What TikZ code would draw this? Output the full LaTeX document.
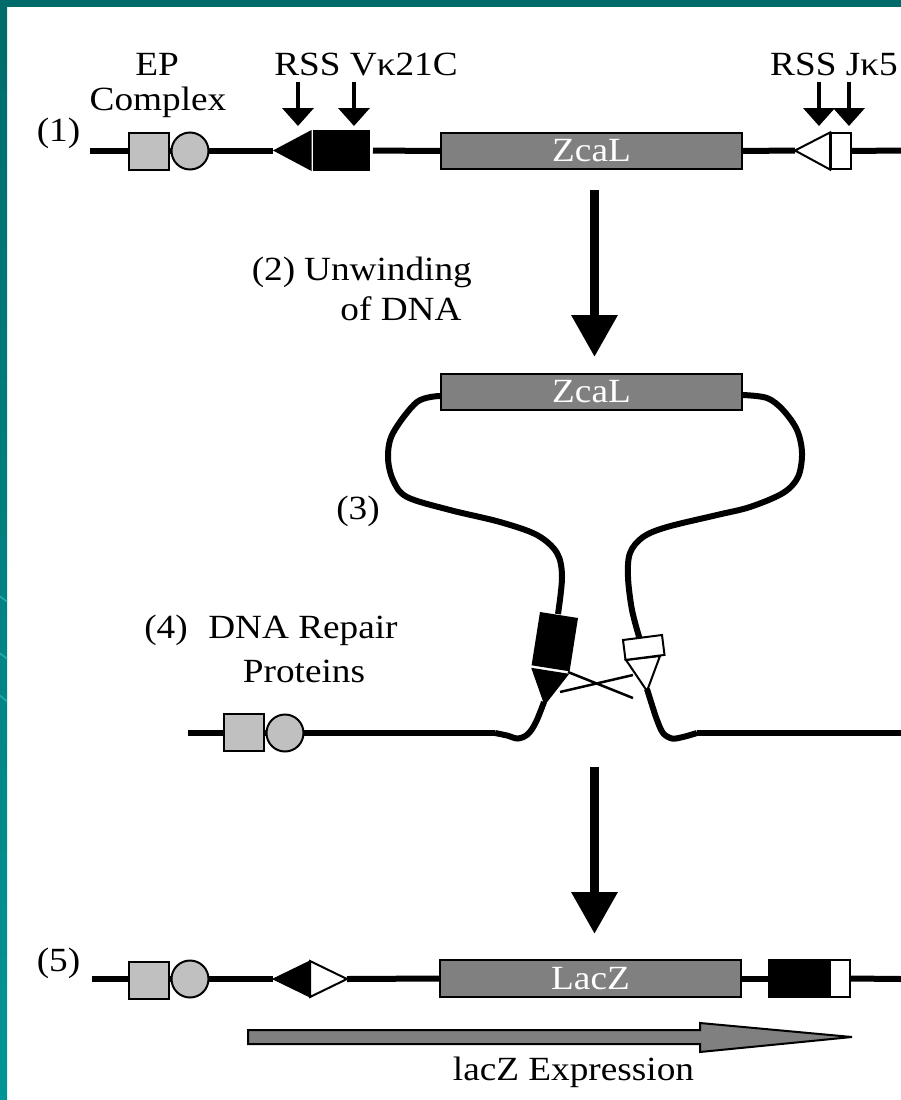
\documentclass[tikz,border=0pt]{standalone}
\usepackage{fontspec}
\setmainfont{Liberation Serif}[FakeStretch=1.1]
\usetikzlibrary{arrows.meta}
\definecolor{tealdark}{HTML}{006B6B}
\definecolor{teallight}{HTML}{009595}
\definecolor{swooshcol}{HTML}{2AA8A8}
\definecolor{genegray}{HTML}{808080}
\definecolor{promgray}{HTML}{C0C0C0}
\newcommand\lblfont{\fontsize{34}{36}\selectfont}

\begin{document}
\begin{tikzpicture}[x=1bp,y=-1bp,
  dna/.style={line width=6bp},
  thinline/.style={line width=2.5bp},
  promsq/.style={draw, line width=2bp, fill=promgray, minimum width=40bp,
    minimum height=37bp, inner sep=0pt, outer sep=0pt},
  promcirc/.style={circle, draw, line width=2bp, fill=promgray,
    minimum size=37bp, inner sep=0pt, outer sep=0pt},
  gene/.style={draw, line width=2bp, fill=genegray, minimum width=301bp,
    minimum height=36bp, inner sep=0pt, outer sep=0pt, text=white, font=\lblfont},
  vseg/.style={fill=black, inner sep=0pt, outer sep=0pt},
  jseg/.style={draw, line width=2bp, fill=white, inner sep=0pt, outer sep=0pt},
  pointer/.style={line width=4bp, -{Triangle[length=18bp,width=31bp]}},
  bigarrow/.style={line width=9.5bp, -{Triangle[length=42bp,width=44bp]}},
  lbl/.style={inner sep=0pt, anchor=base, font=\lblfont},
  swooshline/.style={swooshcol, line width=1.6bp}
]
\useasboundingbox (0,0) rectangle (901,1100);
\fill[white] (0,0) rectangle (901,1100);

% frame strips
\fill[tealdark] (0,0) rectangle (901,7);
\shade[top color=tealdark, bottom color=teallight] (0,0) rectangle (7,1100);
\begin{scope}
  \clip (0,0) rectangle (7,1100);
  \draw[swooshline] (-2,595) -- (9,603);
  \draw[swooshline] (-2,652) -- (9,660);
  \draw[swooshline] (-2,694) -- (9,703);
\end{scope}

% ---------- row (1): initial construct ----------
\coordinate (r1a) at (90,150.5);
\coordinate (rssv1) at (273,150.5);
\coordinate (rssj1) at (795,150.5);
\coordinate (r1b) at (901,150.5);
\draw[dna] (r1a) -- (rssv1);
\node[promsq] (p1) at (149,151) {};
\node[promcirc] (c1) at (190,151) {};
\fill (rssv1) -- (311.5,130) -- (311.5,171) -- cycle;
\node[vseg, minimum width=57bp, minimum height=41bp] (v1) at (341.5,150.5) {};
\node[gene] (z1) at (591.5,151) {ZcaL};
\draw[dna, shorten <=3bp] (v1.east) -- (z1.west);
\draw[dna] (z1.east) -- (rssj1);
\draw[line width=2bp, fill=white] (rssj1) -- (830,132.5) -- (830,169.5) -- cycle;
\node[jseg, minimum width=20bp, minimum height=36bp] (j1) at (841,151) {};
\draw[dna] (j1.east) -- (r1b);

% labels and pointers of row (1)
\node[lbl] (t1) at (58.5,141) {(1)};
\node[lbl] (tep) at (157,75) {EP};
\node[lbl] (tcx) at (158,110) {Complex};
\node[lbl] (tv) at (366,75) {RSS Vκ21C};
\node[lbl] (tj) at (834,75) {RSS Jκ5};
\coordinate (pa1) at (298,82);  \coordinate (pb1) at (298,126);
\coordinate (pa2) at (354,82);  \coordinate (pb2) at (354,126);
\coordinate (pa3) at (819,82);  \coordinate (pb3) at (819,126);
\coordinate (pa4) at (849,82);  \coordinate (pb4) at (849,126);
\draw[pointer] (pa1) -- (pb1);
\draw[pointer] (pa2) -- (pb2);
\draw[pointer] (pa3) -- (pb3);
\draw[pointer] (pa4) -- (pb4);

% ---------- step (2) ----------
\coordinate (ba1) at (594.5,190);
\coordinate (bb1) at (594.5,357);
\draw[bigarrow] (ba1) -- (bb1);
\node[lbl] (t2) at (273.5,280) {(2)};
\node[lbl] (tun) at (388,280) {Unwinding};
\node[lbl] (tof) at (401,320) {of DNA};

% ---------- step (3)/(4): looped intermediate ----------
\node[gene] (z2) at (591.5,392) {ZcaL};
\node[lbl] (t3) at (358,519) {(3)};
\node[lbl] (t4) at (166,638) {(4)};
\node[lbl] (tdr) at (303,638) {DNA Repair};
\node[lbl] (tpr) at (304,682) {Proteins};

% left strand of the loop
\draw[dna] plot[smooth, tension=0.55] coordinates {(440,396) (417,402) (393,433)
  (388,457) (393,480) (407,497) (450,510) (500,522) (537,535) (557,553)
  (562,577) (558,614)};
% right strand of the loop
\draw[dna] plot[smooth, tension=0.55] coordinates {(743,395) (767,398) (783,410)
  (797,430) (802,453) (798,477) (783,493) (750,507) (717,515) (667,527)
  (643,537) (630,553) (628,577) (632,610) (640,640)};

% lower strands out of the segments
\coordinate (r4a) at (188,733);
\coordinate (r4b) at (901,733);
\draw[dna] plot[smooth, tension=0.55] coordinates {(544,702) (536,722) (528,734)
  (518,738.5) (507,735.5) (495,733)};
\draw[dna] (r4a) -- (495,733);
\draw[dna] plot[smooth, tension=0.55] coordinates {(647,689) (652,705) (657,720)
  (663,733) (672,738.5) (683,737) (697,733)};
\draw[dna] (697,733) -- (r4b);

\node[promsq] (p4) at (244,732.5) {};
\node[promcirc] (c4) at (285,733) {};

% V segment with its RSS, tilted
\fill (540,612) -- (578,618) -- (569.6,671.3) -- (531.6,665.3) -- cycle;
\fill (531.2,667.8) -- (569.2,673.8) -- (544.5,705.5) -- cycle;
% J segment with its RSS, tilted
\draw[line width=2bp, fill=white] (626,660) -- (660,656) -- (647,691) -- cycle;
\draw[line width=2bp, fill=white] (623,640) -- (662,635) -- (664.5,654.9) -- (625.5,659.9) -- cycle;
% cut ends being joined
\draw[thinline] (568,672) -- (633,698);
\draw[thinline] (560,692) -- (633,675);

% ---------- step (5): recombined construct ----------
\coordinate (ba2) at (594.5,767);
\coordinate (bb2) at (594.5,934);
\draw[bigarrow] (ba2) -- (bb2);

\coordinate (r5a) at (92,979);
\coordinate (rss5) at (273,979);
\coordinate (rss5b) at (347,979);
\coordinate (r5b) at (901,979);
\draw[dna] (r5a) -- (rss5);
\node[promsq] (p5) at (149,980) {};
\node[promcirc] (c5) at (190,979) {};
\draw[line width=1bp, fill=black] (rss5) -- (310,961) -- (310,997) -- cycle;
\draw[line width=2bp, fill=white] (310,961) -- (rss5b) -- (310,997) -- cycle;
\node[gene, minimum width=301bp, minimum height=37bp] (lz) at (590.5,978.5) {LacZ};
\draw[dna] (rss5b) -- (lz.west);
\node[vseg, minimum width=61bp, minimum height=39bp] (v5) at (798.5,978.5) {};
\draw[dna] (lz.east) -- (v5.west);
\node[jseg, minimum width=20bp, minimum height=37bp] (j5) at (840,978.5) {};
\draw[dna] (j5.east) -- (r5b);
\node[lbl] (t5) at (58.5,971) {(5)};

% expression arrow
\draw[line width=2bp, fill=genegray] (248,1030) -- (700,1030) -- (700,1023)
  -- (852,1037) -- (700,1052) -- (700,1044) -- (248,1044) -- cycle;
\node[lbl] (tex) at (573.5,1080) {lacZ Expression};
\end{tikzpicture}
\end{document}
